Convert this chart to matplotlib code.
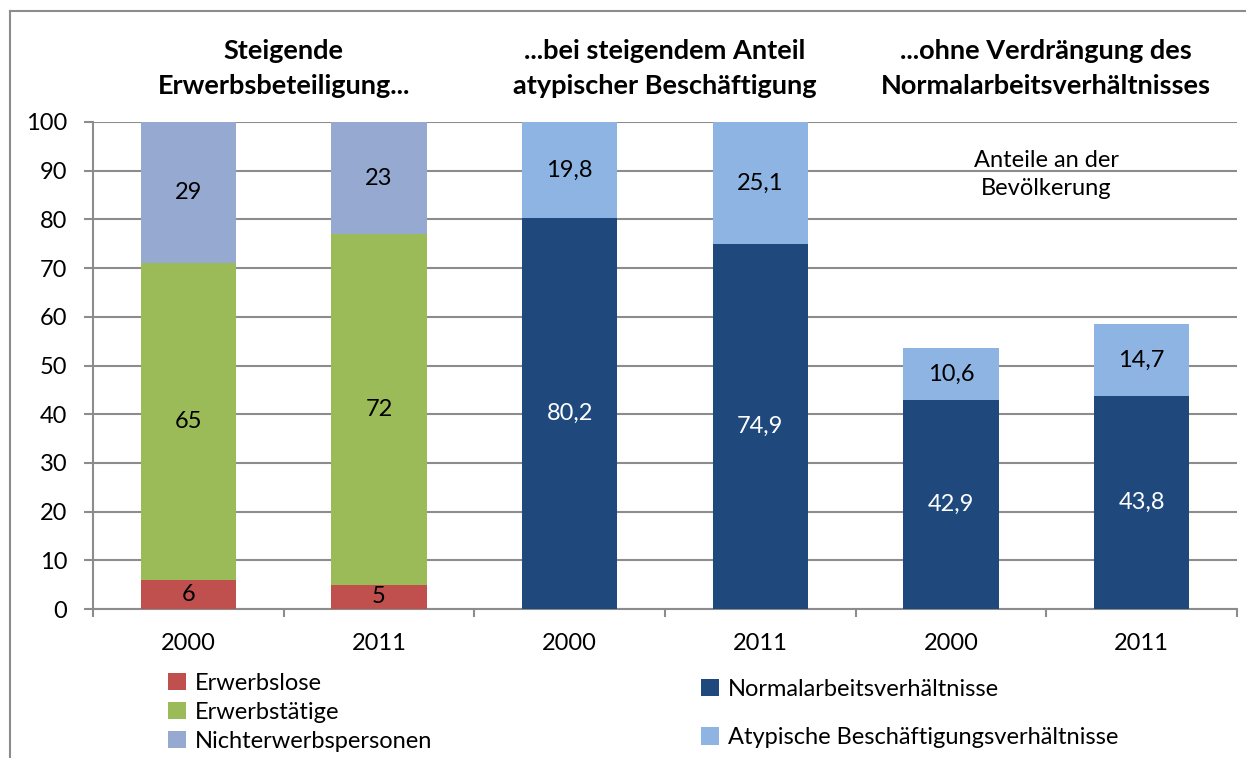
import numpy as np
import matplotlib
matplotlib.use("Agg")
import matplotlib.pyplot as plt
from matplotlib.lines import Line2D

plt.rcParams['font.family'] = ['Lato', 'DejaVu Sans']

# data
years = ["2000", "2011", "2000", "2011", "2000", "2011"]
erwerbslose = [6, 5]
erwerbstaetige = [65, 72]
nichterwerbspersonen = [29, 23]
normal = [80.2, 74.9, 42.9, 43.8]
atypisch = [19.8, 25.1, 10.6, 14.7]
group_titles = ["Steigende\nErwerbsbeteiligung...",
                "...bei steigendem Anteil\natypischer Beschäftigung",
                "...ohne Verdrängung des\nNormalarbeitsverhältnisses"]
note = "Anteile an der\nBevölkerung"

c_red = "#C0504D"
c_green = "#9BBB59"
c_lav = "#95A9D1"
c_dark = "#1F497D"
c_light = "#8EB4E3"
c_grid = "#8C8C8C"


def de(v):
    # German decimal comma
    if float(v).is_integer():
        return str(int(v))
    return f"{v:.1f}".replace(".", ",")


fig = plt.figure(figsize=(12.46, 7.58), dpi=100)
ax = fig.add_axes([93 / 1246, 1 - 609 / 758, 1144 / 1246, 487 / 758])

width = 0.5
x_left = np.arange(2)
x_right = np.arange(2, 6)

# left block: population split
b1 = ax.bar(x_left, erwerbslose, width, color=c_red, zorder=3)
b2 = ax.bar(x_left, erwerbstaetige, width, bottom=erwerbslose, color=c_green, zorder=3)
bottom3 = np.array(erwerbslose) + np.array(erwerbstaetige)
b3 = ax.bar(x_left, nichterwerbspersonen, width, bottom=bottom3, color=c_lav, zorder=3)

# right block: employment types
b4 = ax.bar(x_right, normal, width, color=c_dark, zorder=3)
b5 = ax.bar(x_right, atypisch, width, bottom=normal, color=c_light, zorder=3)

fs = 17
for bars, col in [(b1, "black"), (b2, "black"), (b3, "black"), (b4, "white"), (b5, "black")]:
    ax.bar_label(bars, labels=[de(b.get_height()) for b in bars], label_type="center",
                 color=col, fontsize=fs)

ax.set_xlim(-0.5, 5.5)
ax.set_ylim(0, 100)
ax.set_yticks(np.arange(0, 101, 10))
ax.set_xticks(np.arange(6))
ax.set_xticklabels(years)
ax.set_xticks(np.arange(-0.5, 6, 1), minor=True)
ax.tick_params(axis="y", length=6.5, width=1.5, color=c_grid, pad=12, labelsize=fs)
ax.tick_params(axis="x", which="major", length=0, pad=17, labelsize=fs)
ax.tick_params(axis="x", which="minor", length=6, width=1.5, color=c_grid)

ax.grid(axis="y", color=c_grid, linewidth=1.5, zorder=0)
ax.set_axisbelow(True)
for s in ["top", "right"]:
    ax.spines[s].set_visible(False)
for s in ["left", "bottom"]:
    ax.spines[s].set_color(c_grid)
    ax.spines[s].set_linewidth(1.5)

# group titles
for i, t in enumerate(group_titles):
    ax.text(2 * i + 0.5, 1.11, t, transform=ax.get_xaxis_transform(),
            ha="center", va="center", fontsize=19.5, fontweight="bold", linespacing=1.55)

ax.text(4.5, 89.2, note, ha="center", va="center", fontsize=fs, linespacing=1.45)

# legends
leg1 = fig.legend([b1, b2, b3], ["Erwerbslose", "Erwerbstätige", "Nichterwerbspersonen"],
                  loc="upper left", bbox_to_anchor=(168 / 1246, 1 - 673 / 758),
                  frameon=False, fontsize=fs, handlelength=0.75, handleheight=0.75,
                  handletextpad=0.4, labelspacing=0.33, borderpad=0, borderaxespad=0)
leg2 = fig.legend([b4, b5], ["Normalarbeitsverhältnisse", "Atypische Beschäftigungsverhältnisse"],
                  loc="upper left", bbox_to_anchor=(701 / 1246, 1 - 679 / 758),
                  frameon=False, fontsize=fs, handlelength=0.75, handleheight=0.75,
                  handletextpad=0.4, labelspacing=1.15, borderpad=0, borderaxespad=0)

# outer frame (cut off at right and bottom)
fig.add_artist(Line2D([10 / 1246, 10 / 1246], [0, 1 - 11 / 758], color=c_grid, linewidth=1.5))
fig.add_artist(Line2D([10 / 1246, 1], [1 - 11 / 758, 1 - 11 / 758], color=c_grid, linewidth=1.5))

fig.savefig("out.png", dpi=100)
